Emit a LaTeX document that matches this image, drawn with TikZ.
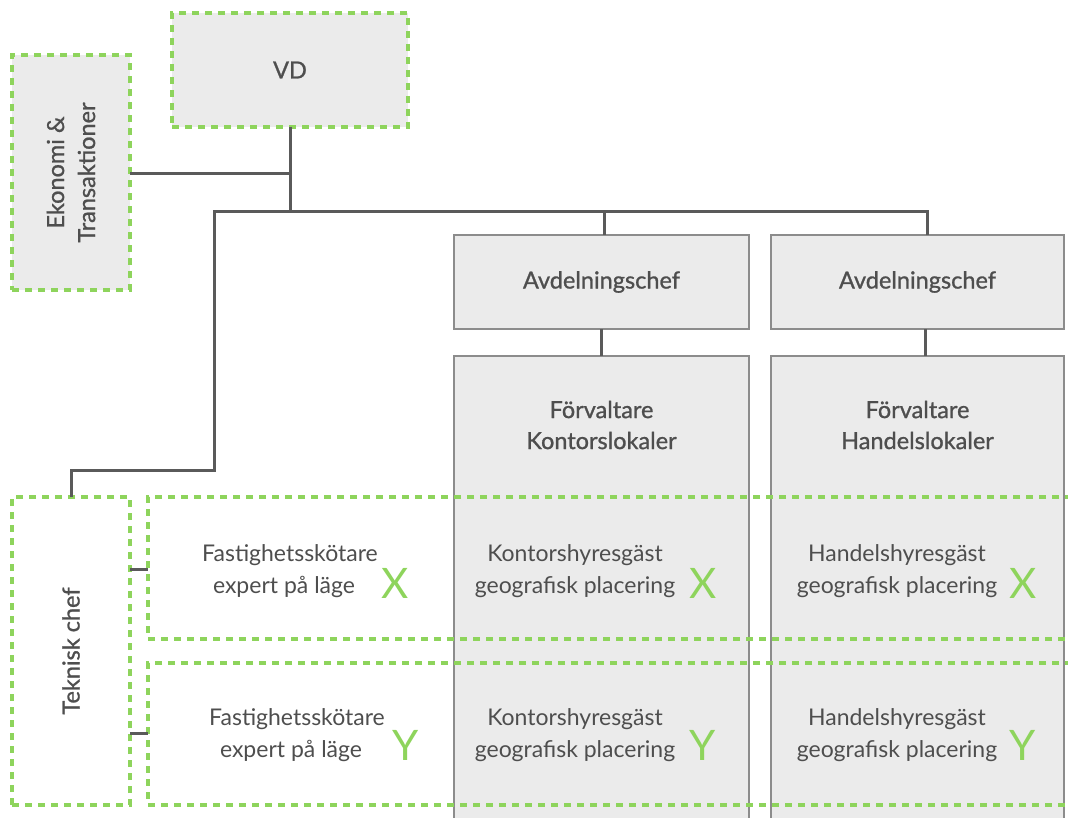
\documentclass[tikz,border=0pt]{standalone}
\usepackage{fontspec}
\setmainfont{Lato}
\newfontfamily\medfont{Lato}[FakeBold=1]
\definecolor{boxfill}{HTML}{EBEBEB}
\definecolor{boxline}{HTML}{8C8C8C}
\definecolor{conn}{HTML}{5A5A5A}
\definecolor{txt}{HTML}{4E4E4E}
\definecolor{lime}{HTML}{8ED45C}
\begin{document}
\begin{tikzpicture}[x=1pt,y=-1pt,
  every node/.style={inner sep=0pt, outer sep=0pt, text=txt, align=center},
  head/.style={font=\fontsize{23.5}{31}\selectfont\medfont},
  body/.style={font=\fontsize{23}{32}\selectfont},
  mark letter/.style={font=\fontsize{42}{42}\selectfont, text=lime},
  greenbox/.style={draw=lime, line width=3.2pt, dash pattern=on 7pt off 6pt, fill=boxfill, rectangle},
  greyline/.style={draw=boxline, line width=1.5pt, fill=boxfill, rectangle},
  rowbox/.style={draw=lime, line width=3.2pt, dash pattern=on 7pt off 6pt},
  link/.style={draw=conn, line width=3pt}]
\useasboundingbox (0,0) rectangle (1068,818);

% top level
\node[greenbox, minimum width=236pt, minimum height=114pt, head] (vd) at (290,70) {VD};
\node[greenbox, minimum width=118pt, minimum height=235pt] (eko) at (71,172.5) {};
\node[head, rotate=90] (ekot) at (eko.center) {Ekonomi \&\\Transaktioner};

% department heads
\node[greyline, minimum width=295pt, minimum height=94pt, head] (avd1) at (601.5,282) {Avdelningschef};
\node[greyline, minimum width=293pt, minimum height=94pt, head] (avd2) at (917.5,282) {Avdelningschef};

% managers (columns run past the lower edge)
\node[greyline, minimum width=295pt, minimum height=480pt] (f1) at (601.5,596) {};
\node[greyline, minimum width=293pt, minimum height=480pt] (f2) at (917.5,596) {};
\node[head] (f1t) at (601.5,425) {Förvaltare\\Kontorslokaler};
\node[head] (f2t) at (917.5,425) {Förvaltare\\Handelslokaler};

% technical chief
\node[draw=lime, line width=3.2pt, dash pattern=on 7pt off 6pt, fill=white, minimum width=118pt, minimum height=308pt] (tek) at (71,651) {};
\node[head, rotate=90] (tekt) at (tek.center) {Teknisk chef};

% rows X and Y
\node[rowbox, minimum width=950pt, minimum height=142pt, anchor=north west] (rowx) at (148,497) {};
\node[rowbox, minimum width=950pt, minimum height=142pt, anchor=north west] (rowy) at (148,663) {};

\node[body] (fx) at (290,571) {Fastighetsskötare\\expert på läge\phantom{g}};
\node[mark letter] (fxm) at (395,583) {X};
\node[body] (kx) at (575,571) {Kontorshyresgäst\\geografisk placering};
\node[mark letter] (kxm) at (703,583) {X};
\node[body] (hx) at (897,571) {Handelshyresgäst\\geografisk placering};
\node[mark letter] (hxm) at (1023,583) {X};

\node[body] (fy) at (297,735) {Fastighetsskötare\\expert på läge\phantom{g}};
\node[mark letter] (fym) at (406,745) {Y};
\node[body] (ky) at (575,735) {Kontorshyresgäst\\geografisk placering};
\node[mark letter] (kym) at (703,745) {Y};
\node[body] (hy) at (897,735) {Handelshyresgäst\\geografisk placering};
\node[mark letter] (hym) at (1023,745) {Y};

% connectors
\coordinate (hub) at (290,212);
\coordinate (ekojoin) at (290,174);
\coordinate (bend) at (214,470);
\draw[link] (vd.south) -- (hub);
\draw[link] (eko.east |- ekojoin) -- (ekojoin);
\draw[link] (tek.north) |- (bend) -- (bend |- hub) -| ([xshift=9.5pt]avd2.north);
\draw[link] ([xshift=2.5pt]avd1.north |- hub) -- ([xshift=2.5pt]avd1.north);
\draw[link] (avd1.south) -- (f1.north);
\draw[link] ([xshift=8pt]avd2.south) -- ([xshift=8pt]f2.north);
\coordinate (tx) at (0,569);
\coordinate (ty) at (0,733);
\draw[link] (tek.east |- tx) -- (rowx.west |- tx);
\draw[link] (tek.east |- ty) -- (rowy.west |- ty);
\end{tikzpicture}
\end{document}
